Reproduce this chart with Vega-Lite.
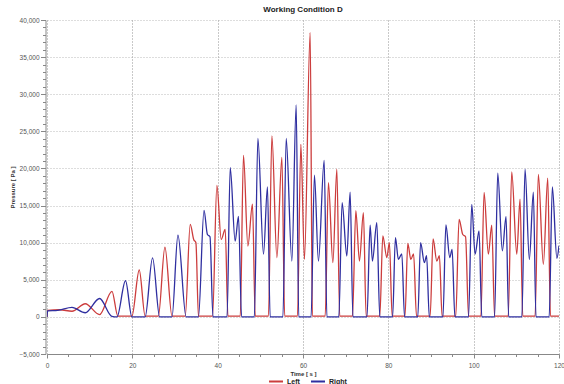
{
  "$schema": "https://vega.github.io/schema/vega-lite/v6.json",
  "width": 512,
  "height": 334,
  "autosize": {"type": "none"},
  "padding": {"left": 47, "top": 20, "right": 5, "bottom": 30},
  "background": "white",
  "config": {"view": {"stroke": null}, "font": "Liberation Sans"},
  "title": {"text": "Working Condition D", "font": "Liberation Sans", "fontSize": 8, "fontWeight": "bold", "color": "#222", "offset": 3, "anchor": "middle"},
  "datasets": {
    "left": [
      {"t": 0, "p": 0}, {"t": 0.15, "p": 880}, {"t": 3.0, "p": 960}, {"t": 5.86, "p": 760}, {"t": 8.97, "p": 1770}, {"t": 12.32, "p": 310}, {"t": 15.23, "p": 3450}, {"t": 16.6, "p": 100}, {"t": 19.9, "p": 100}, {"t": 21.62, "p": 6320}, {"t": 23.0, "p": 100}, {"t": 26.1, "p": 100}, {"t": 27.64, "p": 9380}, {"t": 29.3, "p": 100}, {"t": 32.4, "p": 100}, {"t": 33.57, "p": 12470}, {"t": 34.4, "p": 10400}, {"t": 34.9, "p": 10000}, {"t": 35.5, "p": 100}, {"t": 38.8, "p": 100}, {"t": 39.82, "p": 17700}, {"t": 40.83, "p": 10450}, {"t": 41.77, "p": 11800}, {"t": 42.4, "p": 100}, {"t": 45.3, "p": 100}, {"t": 46.05, "p": 21770}, {"t": 47.08, "p": 9550}, {"t": 48.16, "p": 15200}, {"t": 48.8, "p": 100}, {"t": 51.9, "p": 100}, {"t": 52.71, "p": 24400}, {"t": 53.88, "p": 8000}, {"t": 55.05, "p": 21500}, {"t": 55.7, "p": 100}, {"t": 58.7, "p": 100}, {"t": 59.5, "p": 23250}, {"t": 60.34, "p": 7760}, {"t": 61.68, "p": 38300}, {"t": 62.2, "p": 100}, {"t": 65.2, "p": 100}, {"t": 65.96, "p": 18100}, {"t": 67.0, "p": 7300}, {"t": 67.93, "p": 19900}, {"t": 68.6, "p": 100}, {"t": 71.6, "p": 100}, {"t": 72.38, "p": 14300}, {"t": 73.23, "p": 7530}, {"t": 74.16, "p": 14050}, {"t": 74.8, "p": 100}, {"t": 78.0, "p": 100}, {"t": 78.71, "p": 10900}, {"t": 79.64, "p": 8000}, {"t": 80.25, "p": 10000}, {"t": 80.9, "p": 100}, {"t": 83.9, "p": 100}, {"t": 84.56, "p": 9900}, {"t": 85.27, "p": 7750}, {"t": 85.92, "p": 8500}, {"t": 86.6, "p": 100}, {"t": 89.8, "p": 100}, {"t": 90.49, "p": 10500}, {"t": 91.36, "p": 7530}, {"t": 91.97, "p": 8250}, {"t": 92.6, "p": 100}, {"t": 95.8, "p": 100}, {"t": 96.58, "p": 13150}, {"t": 97.45, "p": 11100}, {"t": 98.1, "p": 10800}, {"t": 98.8, "p": 100}, {"t": 101.7, "p": 100}, {"t": 102.44, "p": 16760}, {"t": 103.44, "p": 8450}, {"t": 104.24, "p": 12370}, {"t": 104.9, "p": 100}, {"t": 108.1, "p": 100}, {"t": 108.92, "p": 19550}, {"t": 110.1, "p": 8450}, {"t": 110.87, "p": 15850}, {"t": 111.5, "p": 100}, {"t": 114.4, "p": 100}, {"t": 115.16, "p": 19200}, {"t": 116.33, "p": 7080}, {"t": 117.36, "p": 18700}, {"t": 118.0, "p": 100}, {"t": 120.0, "p": 100}
    ],
    "right": [
      {"t": 0, "p": 0}, {"t": 0.15, "p": 820}, {"t": 2.5, "p": 880}, {"t": 5.86, "p": 1270}, {"t": 8.97, "p": 560}, {"t": 12.32, "p": 2480}, {"t": 15.2, "p": 80}, {"t": 16.4, "p": 0}, {"t": 18.4, "p": 4870}, {"t": 19.9, "p": 0}, {"t": 23.0, "p": 0}, {"t": 24.74, "p": 7950}, {"t": 26.4, "p": 0}, {"t": 29.3, "p": 0}, {"t": 30.69, "p": 11000}, {"t": 32.6, "p": 0}, {"t": 35.5, "p": 0}, {"t": 36.8, "p": 14350}, {"t": 37.6, "p": 11100}, {"t": 38.2, "p": 10800}, {"t": 38.9, "p": 0}, {"t": 42.2, "p": 0}, {"t": 42.94, "p": 20100}, {"t": 44.1, "p": 10200}, {"t": 44.88, "p": 13550}, {"t": 45.6, "p": 0}, {"t": 48.6, "p": 0}, {"t": 49.43, "p": 24050}, {"t": 50.74, "p": 8450}, {"t": 51.67, "p": 17500}, {"t": 52.3, "p": 0}, {"t": 55.3, "p": 0}, {"t": 56.06, "p": 24050}, {"t": 57.39, "p": 7530}, {"t": 58.4, "p": 28550}, {"t": 59.0, "p": 0}, {"t": 61.9, "p": 0}, {"t": 62.68, "p": 19100}, {"t": 63.62, "p": 7530}, {"t": 64.96, "p": 21100}, {"t": 65.6, "p": 0}, {"t": 68.4, "p": 0}, {"t": 69.17, "p": 15400}, {"t": 70.27, "p": 8200}, {"t": 71.05, "p": 16800}, {"t": 71.7, "p": 0}, {"t": 75.0, "p": 0}, {"t": 75.73, "p": 12370}, {"t": 76.27, "p": 7530}, {"t": 77.3, "p": 12700}, {"t": 78.0, "p": 0}, {"t": 81.0, "p": 0}, {"t": 81.66, "p": 10670}, {"t": 82.36, "p": 7750}, {"t": 83.16, "p": 8500}, {"t": 83.8, "p": 0}, {"t": 86.9, "p": 0}, {"t": 87.56, "p": 10000}, {"t": 88.45, "p": 7300}, {"t": 88.97, "p": 8250}, {"t": 89.6, "p": 0}, {"t": 92.8, "p": 0}, {"t": 93.49, "p": 12400}, {"t": 94.4, "p": 8000}, {"t": 94.95, "p": 9100}, {"t": 95.6, "p": 0}, {"t": 98.8, "p": 0}, {"t": 99.55, "p": 15170}, {"t": 100.33, "p": 8450}, {"t": 101.26, "p": 11570}, {"t": 101.9, "p": 0}, {"t": 104.9, "p": 0}, {"t": 105.64, "p": 19370}, {"t": 106.72, "p": 8900}, {"t": 107.59, "p": 13500}, {"t": 108.2, "p": 0}, {"t": 111.3, "p": 0}, {"t": 112.04, "p": 19900}, {"t": 113.05, "p": 7750}, {"t": 113.99, "p": 16800}, {"t": 114.6, "p": 0}, {"t": 117.7, "p": 0}, {"t": 118.44, "p": 17500}, {"t": 119.5, "p": 7900}, {"t": 120.0, "p": 9600}
    ]
  },
  "layer": [
    {
      "data": {"name": "left"},
      "transform": [{"calculate": "'Left'", "as": "s"}],
      "mark": {"type": "line", "interpolate": "monotone", "strokeWidth": 1.3, "clip": true},
      "encoding": {
        "x": {"field": "t", "type": "quantitative"},
        "y": {"field": "p", "type": "quantitative"},
        "color": {"field": "s", "type": "nominal"}
      }
    },
    {
      "data": {"name": "right"},
      "transform": [{"calculate": "'Right'", "as": "s"}],
      "mark": {"type": "line", "interpolate": "monotone", "strokeWidth": 1.3, "clip": true},
      "encoding": {
        "x": {"field": "t", "type": "quantitative"},
        "y": {"field": "p", "type": "quantitative"},
        "color": {"field": "s", "type": "nominal"}
      }
    }
  ],
  "encoding": {
    "x": {
      "field": "t", "type": "quantitative",
      "scale": {"domain": [0, 120], "nice": false, "zero": false},
      "axis": {
        "values": [0,5,10,15,20,25,30,35,40,45,50,55,60,65,70,75,80,85,90,95,100,105,110,115,120],
        "labelExpr": "datum.value % 20 === 0 ? datum.label : ''",
        "tickSize": {"condition": {"test": "datum.value % 20 === 0", "value": 4}, "value": 2.5},
        "gridOpacity": {"condition": {"test": "datum.value % 20 === 0", "value": 1}, "value": 0},
        "grid": true, "gridColor": "#777", "gridDash": [1, 2], "gridWidth": 0.8,
        "domainColor": "#888", "tickColor": "#888",
        "labelFont": "Liberation Sans", "labelFontSize": 6.5, "labelColor": "#555", "labelPadding": 4,
        "labelOverlap": false, "labelFlush": false,
        "title": "Time [ s ]", "titleFont": "Liberation Sans", "titleFontSize": 6, "titleFontWeight": "bold", "titleColor": "#333", "titlePadding": 2
      }
    },
    "y": {
      "field": "p", "type": "quantitative",
      "scale": {"domain": [-5000, 40000], "nice": false, "zero": false},
      "axis": {
        "values": [-5000,-4000,-3000,-2000,-1000,0,1000,2000,3000,4000,5000,6000,7000,8000,9000,10000,11000,12000,13000,14000,15000,16000,17000,18000,19000,20000,21000,22000,23000,24000,25000,26000,27000,28000,29000,30000,31000,32000,33000,34000,35000,36000,37000,38000,39000,40000],
        "labelExpr": "datum.value % 5000 === 0 ? format(datum.value, ',') : ''",
        "tickSize": {"condition": {"test": "datum.value % 5000 === 0", "value": 5}, "value": 3},
        "gridOpacity": {"condition": {"test": "datum.value % 5000 === 0", "value": 1}, "value": 0},
        "grid": true, "gridColor": "#aaa", "gridDash": [1, 2], "gridWidth": 0.8,
        "domainColor": "#888", "tickColor": "#888",
        "labelFont": "Liberation Sans", "labelFontSize": 6.5, "labelColor": "#555", "labelPadding": 1.5,
        "labelOverlap": false, "labelFlush": false,
        "offset": 1.5,
        "title": "Pressure [ Pa ]", "titleFont": "Liberation Sans", "titleFontSize": 6, "titleFontWeight": "bold", "titleColor": "#333", "titlePadding": 3
      }
    },
    "color": {
      "field": "s", "type": "nominal",
      "scale": {"domain": ["Left", "Right"], "range": ["#cc3d3d", "#2f2fa0"]},
      "legend": {
        "orient": "none", "legendX": 221, "legendY": 353.5, "direction": "horizontal",
        "title": null, "symbolType": "stroke", "symbolSize": 196, "symbolStrokeWidth": 2,
        "labelFont": "Liberation Sans", "labelFontSize": 7, "labelFontWeight": "bold", "labelColor": "#222",
        "columnPadding": 7, "labelOffset": 3, "padding": 0
      }
    }
  }
}
